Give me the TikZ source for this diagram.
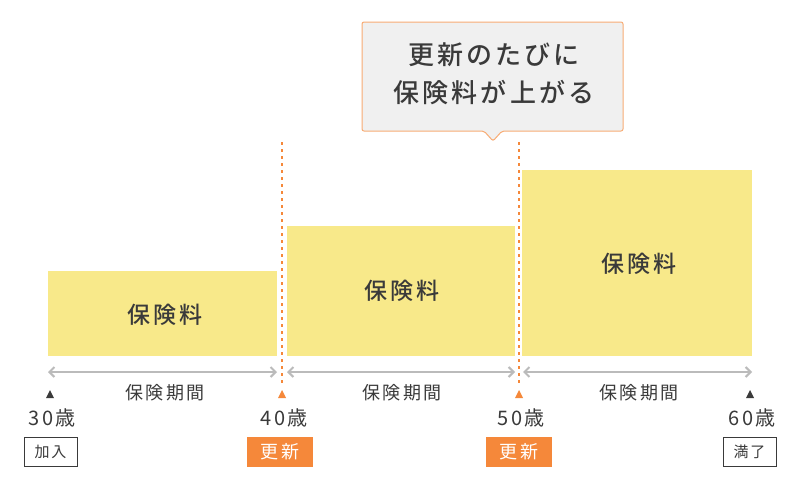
\documentclass[tikz,border=0pt]{standalone}
\usepackage{fontspec}
\setmainfont{Noto Sans CJK JP}
\newfontfamily\spfont[LetterSpace=12,BoldFont={Noto Sans CJK JP Medium}]{Noto Sans CJK JP}
\usetikzlibrary{arrows.meta}
\definecolor{ylw}{HTML}{F8E98A}
\definecolor{org}{HTML}{F5883A}
\definecolor{txt}{HTML}{3A3A3A}
\definecolor{gry}{HTML}{BBBBBB}
\tikzset{
  x=1pt,y=-1pt,
  bar/.style={fill=ylw,draw=none},
  big/.style={font=\spfont\fontsize{23}{26}\selectfont\bfseries,text=txt},
  per/.style={gry,line width=2pt,{Straight Barb[length=5pt,width=10pt]}-{Straight Barb[length=5pt,width=10pt]}},
  lbl/.style={font=\spfont\fontsize{18}{20}\selectfont,text=txt},
  age/.style={font=\spfont\fontsize{20}{22}\selectfont,text=txt},
  renew/.style={fill=org,text=white,minimum width=66pt,minimum height=30pt,inner sep=0pt,font=\spfont\fontsize{18}{20}\selectfont},
  plain/.style={draw=txt,fill=white,text=txt,minimum width=53pt,minimum height=29pt,inner sep=0pt,font=\spfont\fontsize{15}{17}\selectfont},
  vline/.style={org,line width=1.4pt,dash pattern=on 3pt off 4pt},
}
\begin{document}
\begin{tikzpicture}
\useasboundingbox (0,0) rectangle (800,493);
\fill[white] (0,0) rectangle (800,493);
\draw[bar] (48,271) rectangle (277,356);
\draw[bar] (287,226) rectangle (515,356);
\draw[bar] (522,170) rectangle (752,356);
\node[big] (p1) at (165,315) {保険料};
\node[big] (p2) at (402,291) {保険料};
\node[big] (p3) at (639,264) {保険料};
\coordinate (d1t) at (282,142); \coordinate (d1b) at (282,384);
\coordinate (d2t) at (519,142); \coordinate (d2b) at (519,384);
\draw[vline] (d1t) -- (d1b);
\draw[vline] (d2t) -- (d2b);
\coordinate (a0) at (48,372); \coordinate (a1) at (277,372);
\coordinate (b0) at (287,372); \coordinate (b1) at (515,372);
\coordinate (c0) at (523,372); \coordinate (c1) at (752,372);
\draw[per] (a0) -- (a1);
\draw[per] (b0) -- (b1);
\draw[per] (c0) -- (c1);
\node[lbl] (l1) at (165,393) {保険期間};
\node[lbl] (l2) at (402,393) {保険期間};
\node[lbl] (l3) at (639,393) {保険期間};
\fill[txt] (46,398) -- (54,398) -- (50,390) -- cycle;
\fill[org] (278,398) -- (286,398) -- (282,390) -- cycle;
\fill[org] (515,398) -- (523,398) -- (519,390) -- cycle;
\fill[txt] (746,398) -- (754,398) -- (750,390) -- cycle;
\node[age] (g30) at (52,418) {30歳};
\node[age] (g40) at (284,418) {40歳};
\node[age] (g50) at (521,418) {50歳};
\node[age] (g60) at (752,418) {60歳};
\node[plain] (t1) at (50.5,451.5) {加入};
\node[renew] (t2) at (280,451.5) {更新};
\node[renew] (t3) at (519,451.5) {更新};
\node[plain] (t4) at (749.5,451.5) {満了};
\draw[org!70,fill=black!6,line width=1pt,rounded corners=2pt]
  (362,22) -- (623,22) -- (623,131) -- (502,131) -- (493,141) -- (484,131) -- (362,131) -- cycle;
\node[align=center,text=txt,font=\spfont\fontsize{26}{38}\selectfont\bfseries] (co) at (494,74) {更新のたびに\\保険料が上がる};
\end{tikzpicture}
\end{document}
